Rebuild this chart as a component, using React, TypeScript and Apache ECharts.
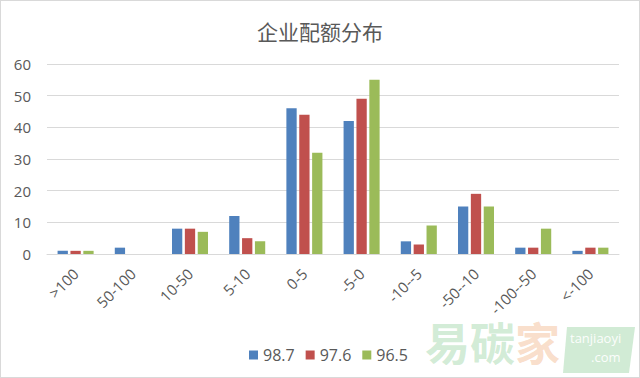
import React, { useEffect, useRef } from "react";
import * as echarts from "echarts";

const categories = [">100", "50-100", "10-50", "5-10", "0-5", "-5-0", "-10--5", "-50--10", "-100--50", "<-100"];
const seriesNames = ["98.7", "97.6", "96.5"];
const s987 = [1, 2, 8, 12, 46, 42, 4, 15, 2, 1];
const s976 = [1, 0, 8, 5, 44, 49, 3, 19, 2, 2];
const s965 = [1, 0, 7, 4, 32, 55, 9, 15, 8, 2];
const colors = ["#4F81BD", "#C0504D", "#9BBB59"];
const title = "企业配额分布";

export default function App() {
  const ref = useRef<HTMLDivElement>(null);
  useEffect(() => {
    const chart = echarts.init(ref.current!, null, { renderer: "svg" });
    const font = "'Open Sans', 'Noto Sans', sans-serif";
    const data = [s987, s976, s965];
    chart.setOption({
      animation: false,
      backgroundColor: "#ffffff",
      title: {
        text: title,
        left: "center",
        top: 14,
        textStyle: { fontFamily: "'Noto Sans CJK SC', sans-serif", fontSize: 21, fontWeight: "normal", color: "#595959" },
      },
      legend: {
        top: 341,
        left: 243,
        itemWidth: 9,
        itemHeight: 9,
        itemGap: 11,
        icon: "rect",
        textStyle: { fontFamily: font, fontSize: 16, color: "#595959" },
        data: seriesNames,
      },
      grid: { left: 46, right: 20, top: 63, bottom: 123 },
      xAxis: {
        type: "category",
        data: categories,
        axisLine: { lineStyle: { color: "#d9d9d9" } },
        axisTick: { show: false },
        axisLabel: { rotate: 45, fontFamily: font, fontSize: 15, color: "#595959", margin: 17, interval: 0 },
      },
      yAxis: {
        type: "value",
        min: 0,
        max: 60,
        interval: 10,
        axisLine: { show: false },
        axisTick: { show: false },
        splitLine: { lineStyle: { color: "#d9d9d9" } },
        axisLabel: { fontFamily: font, fontSize: 15, color: "#595959", margin: 16 },
      },
      series: seriesNames.map((n, i) => ({
        name: n,
        type: "bar",
        data: data[i],
        itemStyle: { color: colors[i] },
        barGap: "25%",
        barCategoryGap: "37%",
      })),
      graphic: [
        {
          type: "text",
          left: 424,
          top: 318,
          style: {
            text: "易碳{o|家}",
            font: "bold 45px 'Noto Sans CJK SC', sans-serif",
            fill: "rgba(140,205,150,0.4)",
            rich: { o: { font: "bold 45px 'Noto Sans CJK SC', sans-serif", fill: "rgba(240,170,120,0.4)" } },
          },
        },
        {
          type: "polygon",
          shape: { points: [[566, 326], [634, 326], [628, 372], [562, 372]] },
          style: { fill: "rgba(140,205,150,0.4)" },
        },
        {
          type: "text",
          left: 569,
          top: 330,
          style: { text: "tanjiaoyi", font: "13px 'Open Sans', sans-serif", fill: "rgba(255,255,255,0.95)" },
        },
        {
          type: "text",
          left: 590,
          top: 349,
          style: { text: ".com", font: "13px 'Open Sans', sans-serif", fill: "rgba(255,255,255,0.95)" },
        },
      ],
    });
    return () => chart.dispose();
  }, []);
  return (
    <div
      ref={ref}
      style={{
        position: "absolute",
        left: 0,
        top: 0,
        width: 640,
        height: 378,
        boxSizing: "border-box",
        border: "1px solid #d9d9d9",
      }}
    />
  );
}
